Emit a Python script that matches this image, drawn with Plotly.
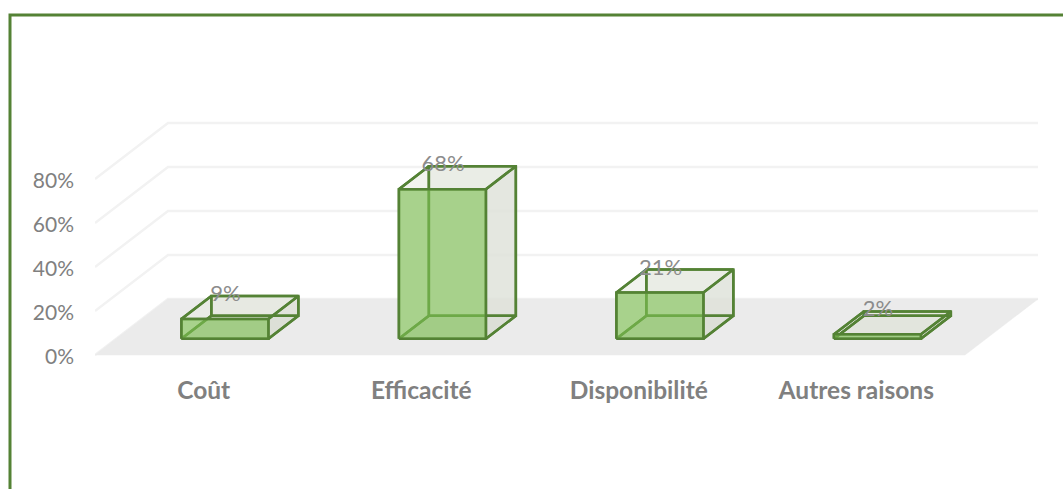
import plotly.graph_objects as go

categories = ["Coût", "Efficacité", "Disponibilité", "Autres raisons"]
values = [9, 68, 21, 2]
value_labels = ["9%", "68%", "21%", "2%"]
tick_vals = [0, 20, 40, 60, 80]
tick_labels = ["0%", "20%", "40%", "60%", "80%"]

# oblique projection of the depth axis, in x-category units and y-percent units
DX = 0.3356
DY = 25.45
HALF = 0.2
D_FRONT = 0.29
D_BACK = 0.7

GREEN = "#548235"
GREY = "#808080"
FONT = "Lato"

W, H = 1063, 489
L, R, T, B = 95, 23, 100, 117
X_UNIT = 217.5
Y_UNIT = 2.2
x_lo = -0.5
x_hi = x_lo + (W - L - R) / X_UNIT
y_lo = -(H - B - 355) / Y_UNIT
y_hi = (355 - T) / Y_UNIT


def pt(i, v, d):
    return i + d * DX, v + d * DY


def face(points, fill=None, line_color=GREEN, width=2.5):
    xs = [p[0] for p in points] + [points[0][0]]
    ys = [p[1] for p in points] + [points[0][1]]
    return go.Scatter(x=xs, y=ys, mode="lines", fill="toself" if fill else "none", fillcolor=fill,
                      line=dict(color=line_color, width=width), hoverinfo="skip", showlegend=False)


fig = go.Figure()

# walls
for v in tick_vals:
    fig.add_trace(go.Scatter(x=[x_lo, x_lo + DX, 3.5 + DX], y=[v, v + DY, v + DY], mode="lines",
                             line=dict(color="#f2f2f2", width=2.4), hoverinfo="skip", showlegend=False))

# floor
fig.add_trace(face([pt(-0.5, 0, 0), pt(-0.5, 0, 1), pt(3.5, 0, 1), pt(3.5, 0, 0)], "#ebebeb", "#ebebeb", 0.5))

# bars: pale fills first, then all the edges, then the front face over them
for i, v in enumerate(values):
    l, r = i - HALF, i + HALF
    bottom = [pt(l, 0, D_FRONT), pt(l, 0, D_BACK), pt(r, 0, D_BACK), pt(r, 0, D_FRONT)]
    back = [pt(l, 0, D_BACK), pt(l, v, D_BACK), pt(r, v, D_BACK), pt(r, 0, D_BACK)]
    left = [pt(l, 0, D_FRONT), pt(l, v, D_FRONT), pt(l, v, D_BACK), pt(l, 0, D_BACK)]
    right = [pt(r, 0, D_FRONT), pt(r, v, D_FRONT), pt(r, v, D_BACK), pt(r, 0, D_BACK)]
    top = [pt(l, v, D_FRONT), pt(l, v, D_BACK), pt(r, v, D_BACK), pt(r, v, D_FRONT)]
    front = [pt(l, 0, D_FRONT), pt(l, v, D_FRONT), pt(r, v, D_FRONT), pt(r, 0, D_FRONT)]
    for pts, fill in [(front, "#e6e8e0"), (bottom, "rgba(205,208,198,0.6)"), (back, "rgba(225,228,220,0.6)"),
                      (right, "rgba(222,225,216,0.6)"), (top, "rgba(232,235,226,0.6)")]:
        fig.add_trace(face(pts, fill, fill, 0))
    for pts in [bottom, back, left, right, top]:
        fig.add_trace(face(pts))
    fig.add_trace(face(front, "rgba(127,195,83,0.6)"))

# data labels
fig.add_trace(go.Scatter(x=[i + 0.1 for i in range(len(values))],
                         y=[v + D_BACK * DY + 0.2 for v in values],
                         mode="text", text=value_labels, textposition="middle center",
                         textfont=dict(family=FONT, size=22, color="#8c8c8c"),
                         hoverinfo="skip", showlegend=False, cliponaxis=False))

# frame, open at the right and bottom like the cropped original
frame_x0 = (10 - L) / (W - L - R)
frame_x1 = (W + 5 - L) / (W - L - R)
frame_y0 = (H - B - (H + 5)) / (H - T - B)
frame_y1 = (H - B - 15) / (H - T - B)
fig.add_shape(type="path", xref="paper", yref="paper",
              path=f"M {frame_x0} {frame_y0} L {frame_x0} {frame_y1} L {frame_x1} {frame_y1}",
              line=dict(color=GREEN, width=3))

fig.update_layout(
    width=W, height=H, margin=dict(l=L, r=R, t=T, b=B, pad=0),
    paper_bgcolor="white", plot_bgcolor="white", showlegend=False,
    xaxis=dict(range=[x_lo, x_hi], tickmode="array", tickvals=list(range(len(categories))), ticktext=categories,
               showgrid=False, zeroline=False, showline=False, ticks="",
               tickfont=dict(family=FONT, size=24.5, color=GREY, weight="bold"), ticklabelstandoff=1),
    yaxis=dict(range=[y_lo, y_hi], tickmode="array", tickvals=tick_vals, ticktext=tick_labels,
               showgrid=False, zeroline=False, showline=False, ticks="",
               tickfont=dict(family=FONT, size=21, color=GREY), ticklabelstandoff=20, ticklabelshift=2),
)

# the page's default body margin would push the figure off by 8px
fig.write_html("out.html", config=dict(displayModeBar=False), post_script="document.body.style.margin='0';")
